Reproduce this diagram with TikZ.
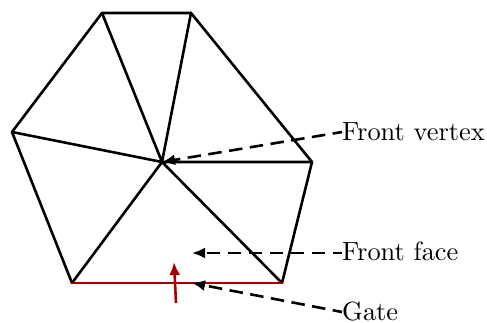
\documentclass[tikz,border=0pt]{standalone}
\usetikzlibrary{arrows.meta}
\definecolor{gatered}{RGB}{165,0,0}
\font\labf=cmr10 at 26.4pt
\tikzset{edge/.style={line width=2.6pt,line cap=round,line join=round},
ptr/.style={line width=2.6pt,dash pattern=on 13.5pt off 7.5pt,dash phase=4pt,-{Latex[length=13pt,width=11pt]}},
lab/.style={anchor=base west,inner sep=0pt,font=\labf}}
\begin{document}
\begin{tikzpicture}[x=1pt,y=-1pt]
\useasboundingbox (0,0) rectangle (487,322);
\coordinate (A) at (102,13);
\coordinate (B) at (191,13);
\coordinate (C) at (312,162);
\coordinate (D) at (282,283);
\coordinate (E) at (72,283);
\coordinate (F) at (12,132);
\coordinate (O) at (162,162);
\draw[edge] (E)--(F)--(A)--(B)--(C)--(D);
\draw[edge] (O)--(A) (O)--(B) (O)--(C) (O)--(D) (O)--(E) (O)--(F);
\draw[edge,gatered] (E)--(D);
\coordinate (t1) at (174,262);
\coordinate (t2) at (176,303);
\draw[line width=2.6pt,gatered,-{Latex[length=13pt,width=11pt]}] (t2)--(t1);
\node[lab] (fv) at (342,140) {Front vertex};
\node[lab] (ff) at (342,260) {Front face};
\node[lab] (g) at (342,320) {Gate};
\coordinate (q1) at (342,132);
\coordinate (q2) at (342,253);
\coordinate (q3) at (342,312);
\coordinate (p1) at (192,253);
\coordinate (p2) at (192,283);
\draw[ptr] (q1)--(O);
\draw[ptr] (q2)--(p1);
\draw[ptr] (q3)--(p2);
\end{tikzpicture}
\end{document}
